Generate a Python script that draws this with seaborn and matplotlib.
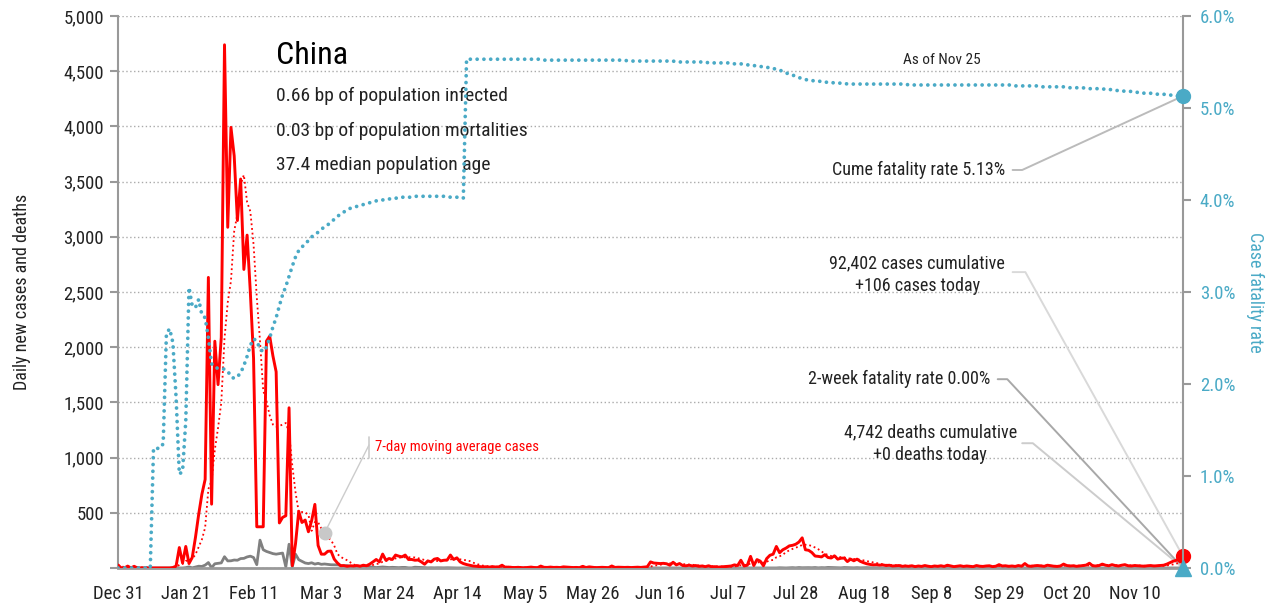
import pandas as pd
import numpy as np
import matplotlib
matplotlib.use('Agg')
import matplotlib.pyplot as plt
import matplotlib.dates as mdates
from matplotlib import font_manager as fm
import seaborn as sns

# daily new cases, one list per month (Dec 31 2019 .. Nov 25 2020)
cases_dec = [27]
cases_jan = [0, 0, 17, 0, 15, 0, 0, 0, 0, 0,
             0, 0, 0, 0, 0, 0, 4, 17, 185, 45,
             195, 40, 95, 277, 486, 669, 802, 2632, 578, 2054, 1661]
cases_feb = [2089, 4739, 3086, 3991, 3733, 3147, 3523, 2704, 3015, 2500,
             1900, 373, 373, 373, 2055, 2100, 1921, 1777, 408, 458,
             473, 1451, 21, 219, 513, 412, 434, 328, 428]
cases_mar = [576, 204, 125, 125, 151, 153, 80, 45, 20, 22,
             15, 20, 18, 22, 16, 25, 20, 35, 55, 77,
             55, 126, 70, 86, 77, 117, 107, 101, 117, 77, 77]
cases_apr = [70, 72, 55, 34, 64, 55, 80, 86, 64, 70,
             72, 117, 77, 92, 55, 40, 31, 25, 18, 15,
             12, 10, 11, 8, 12, 9, 10, 25, 6, 8]
cases_may = [5, 4, 6, 3, 2, 5, 8, 4, 3, 17,
             6, 5, 8, 5, 6, 4, 10, 8, 5, 4,
             5, 3, 15, 4, 10, 6, 3, 4, 6, 4, 3]
cases_jun = [18, 5, 7, 6, 5, 6, 4, 5, 7, 5,
             8, 11, 55, 45, 42, 40, 42, 38, 25, 52,
             28, 40, 22, 20, 25, 18, 22, 15, 18, 12]
cases_jul = [20, 10, 12, 8, 10, 12, 15, 18, 28, 22,
             70, 18, 25, 105, 22, 76, 62, 20, 85, 115,
             125, 195, 138, 165, 180, 200, 205, 215, 235, 273, 165]
cases_aug = [160, 140, 108, 105, 100, 120, 95, 90, 110, 80,
             88, 90, 58, 80, 65, 80, 60, 48, 38, 32,
             28, 30, 26, 28, 22, 25, 18, 20, 22, 15, 18]
cases_sep = [15, 20, 12, 18, 14, 22, 16, 12, 18, 15,
             20, 14, 25, 18, 12, 16, 20, 14, 18, 15,
             12, 22, 16, 14, 18, 20, 12, 16, 30, 18]
cases_oct = [20, 15, 18, 14, 22, 16, 40, 18, 15, 20,
             22, 18, 15, 25, 20, 16, 14, 18, 35, 22,
             18, 20, 15, 18, 22, 26, 43, 20, 18, 22, 35]
cases_nov = [25, 20, 30, 22, 18, 25, 30, 20, 18, 22,
             20, 18, 16, 20, 22, 18, 20, 22, 25, 35,
             49, 62, 70, 85, 106]

# daily new deaths
deaths_dec = [0]
deaths_jan = [0, 0, 0, 0, 0, 0, 0, 0, 0, 0,
              1, 0, 0, 0, 0, 0, 1, 0, 1, 0,
              3, 10, 1, 8, 16, 14, 26, 49, 2, 38, 42]
deaths_feb = [46, 102, 64, 65, 72, 70, 85, 87, 100, 107,
              95, 30, 252, 165, 150, 140, 130, 125, 130, 135,
              10, 215, 10, 125, 75, 60, 45, 40, 47]
deaths_mar = [35, 42, 33, 36, 32, 29, 28, 28, 23, 16,
              22, 11, 8, 13, 10, 14, 13, 11, 8, 4,
              6, 9, 7, 4, 6, 5, 3, 5, 5, 1, 1]
deaths_apr = [7, 6, 4, 3, 1, 2, 1, 2, 1, 1,
              2, 1, 1, 0, 0, 1, 0, 0, 0, 0,
              0, 0, 0, 0, 0, 0, 0, 0, 0, 0]
deaths_may = [0, 0, 0, 0, 0, 0, 0, 0, 0, 0,
              0, 0, 0, 0, 0, 0, 1, 0, 0, 0,
              0, 0, 0, 0, 0, 0, 0, 0, 0, 0, 0]
deaths_jun = [0, 0, 0, 0, 0, 0, 0, 0, 0, 0,
              0, 0, 0, 0, 0, 0, 0, 0, 0, 0,
              0, 0, 0, 0, 0, 0, 0, 0, 0, 0]
deaths_jul = [0, 0, 0, 0, 0, 0, 0, 0, 0, 0,
              0, 0, 0, 0, 0, 0, 0, 0, 0, 0,
              1, 0, 2, 1, 0, 2, 3, 1, 4, 2, 3]
deaths_aug = [3, 2, 4, 1, 3, 2, 5, 4, 3, 2,
              1, 4, 3, 2, 1, 3, 1, 2, 3, 2,
              1, 2, 1, 1, 0, 2, 1, 1, 0, 1, 0]
deaths_sep = [1, 0, 0, 1, 0, 0, 0, 1, 0, 0,
              0, 0, 1, 0, 0, 0, 0, 0, 0, 0,
              0, 0, 0, 0, 1, 0, 0, 0, 0, 0]
deaths_oct = [0, 0, 0, 0, 0, 0, 1, 0, 0, 0,
              0, 0, 0, 0, 0, 0, 0, 0, 0, 0,
              0, 0, 0, 0, 0, 0, 0, 0, 0, 0, 0]
deaths_nov = [0, 0, 0, 0, 0, 0, 0, 0, 0, 0,
              0, 0, 0, 0, 0, 0, 0, 0, 0, 0,
              0, 0, 0, 0, 0]

# cumulative case fatality rate, percent
cfr_dec = [0.00]
cfr_jan = [0.00, 0.00, 0.00, 0.00, 0.00, 0.00, 0.00, 0.00, 0.00, 0.00,
           1.30, 1.30, 1.30, 1.35, 2.55, 2.60, 2.45, 1.85, 1.02, 1.05,
           1.60, 3.05, 2.85, 2.83, 2.92, 2.75, 2.72, 2.50, 2.22, 2.18, 2.17]
cfr_feb = [2.17, 2.16, 2.14, 2.08, 2.06, 2.08, 2.12, 2.20, 2.30, 2.42,
           2.49, 2.47, 2.38, 2.35, 2.40, 2.50, 2.62, 2.72, 2.85, 2.97,
           3.06, 3.17, 3.28, 3.38, 3.45, 3.49, 3.52, 3.56, 3.60]
cfr_mar = [3.62, 3.65, 3.68, 3.71, 3.73, 3.76, 3.79, 3.82, 3.85, 3.87,
           3.89, 3.91, 3.92, 3.93, 3.94, 3.95, 3.96, 3.97, 3.98, 3.99,
           4.00, 4.00, 4.01, 4.01, 4.02, 4.02, 4.02, 4.03, 4.03, 4.03, 4.03]
cfr_apr = [4.04, 4.04, 4.04, 4.04, 4.04, 4.04, 4.04, 4.04, 4.04, 4.04,
           4.04, 4.03, 4.03, 4.03, 4.02, 4.02, 5.53, 5.53, 5.53, 5.53,
           5.53, 5.53, 5.53, 5.53, 5.53, 5.53, 5.53, 5.53, 5.53, 5.53]
cfr_may = [5.53, 5.53, 5.53, 5.53, 5.53, 5.53, 5.53, 5.53, 5.53, 5.53,
           5.52, 5.52, 5.52, 5.52, 5.52, 5.52, 5.52, 5.52, 5.52, 5.52,
           5.52, 5.52, 5.52, 5.52, 5.52, 5.52, 5.52, 5.52, 5.52, 5.52, 5.52]
cfr_jun = [5.52, 5.52, 5.52, 5.52, 5.52, 5.51, 5.51, 5.51, 5.51, 5.51,
           5.51, 5.51, 5.51, 5.51, 5.51, 5.51, 5.51, 5.51, 5.51, 5.51,
           5.50, 5.50, 5.50, 5.50, 5.50, 5.50, 5.50, 5.50, 5.50, 5.50]
cfr_jul = [5.49, 5.49, 5.49, 5.49, 5.49, 5.49, 5.49, 5.49, 5.48, 5.48,
           5.48, 5.47, 5.47, 5.46, 5.46, 5.46, 5.45, 5.45, 5.44, 5.44,
           5.43, 5.42, 5.41, 5.40, 5.38, 5.37, 5.36, 5.34, 5.33, 5.32, 5.31]
cfr_aug = [5.30, 5.30, 5.29, 5.29, 5.29, 5.28, 5.28, 5.28, 5.27, 5.27,
           5.27, 5.27, 5.26, 5.26, 5.26, 5.26, 5.26, 5.26, 5.26, 5.26,
           5.26, 5.26, 5.26, 5.26, 5.26, 5.26, 5.26, 5.26, 5.26, 5.26, 5.26]
cfr_sep = [5.25, 5.25, 5.25, 5.25, 5.25, 5.25, 5.25, 5.25, 5.25, 5.25,
           5.25, 5.25, 5.25, 5.25, 5.25, 5.25, 5.25, 5.25, 5.25, 5.25,
           5.25, 5.25, 5.25, 5.25, 5.25, 5.25, 5.25, 5.25, 5.25, 5.25]
cfr_oct = [5.25, 5.25, 5.25, 5.24, 5.24, 5.24, 5.24, 5.24, 5.24, 5.24,
           5.24, 5.23, 5.23, 5.23, 5.23, 5.23, 5.23, 5.23, 5.23, 5.22,
           5.22, 5.22, 5.22, 5.22, 5.22, 5.21, 5.21, 5.21, 5.21, 5.21, 5.21]
cfr_nov = [5.20, 5.20, 5.20, 5.19, 5.19, 5.19, 5.18, 5.18, 5.18, 5.17,
           5.17, 5.17, 5.16, 5.16, 5.16, 5.16, 5.15, 5.15, 5.15, 5.14,
           5.14, 5.14, 5.13, 5.13, 5.13]

stats = ['0.66 bp of population infected',
         '0.03 bp of population mortalities',
         '37.4 median population age']

cases = (cases_dec + cases_jan + cases_feb + cases_mar + cases_apr + cases_may
         + cases_jun + cases_jul + cases_aug + cases_sep + cases_oct + cases_nov)
deaths = (deaths_dec + deaths_jan + deaths_feb + deaths_mar + deaths_apr + deaths_may
          + deaths_jun + deaths_jul + deaths_aug + deaths_sep + deaths_oct + deaths_nov)
cfr = (cfr_dec + cfr_jan + cfr_feb + cfr_mar + cfr_apr + cfr_may
       + cfr_jun + cfr_jul + cfr_aug + cfr_sep + cfr_oct + cfr_nov)

dates = pd.date_range('2019-12-31', periods=len(cases), freq='D')
df = pd.DataFrame({'date': dates, 'cases': cases, 'deaths': deaths,
                   'cfr': np.array(cfr) / 100})
df['cases_ma'] = df['cases'].rolling(7, min_periods=1).mean()
two_week = df['deaths'].tail(14).sum() / df['cases'].tail(14).sum()

TEAL = '#4aaac6'
GREY = '#999999'

sns.set_style('white')
installed = {f.name for f in fm.fontManager.ttflist}
family = next((f for f in ['Roboto Condensed', 'Liberation Sans Narrow', 'DejaVu Sans']
               if f in installed), 'DejaVu Sans')
plt.rcParams['font.family'] = [family, 'DejaVu Sans']
plt.rcParams['font.stretch'] = 'condensed'
plt.rcParams['text.color'] = '#222222'

fig, ax = plt.subplots(figsize=(12.73, 6.10), dpi=100)
fig.subplots_adjust(left=0.0927, right=0.9293, bottom=0.0689, top=0.9738)

sns.lineplot(data=df, x='date', y='deaths', ax=ax, color='#808080', lw=2, zorder=2)
sns.lineplot(data=df, x='date', y='cases_ma', ax=ax, color='red', lw=1.3,
             linestyle=(0, (1, 1.6)), zorder=3)
sns.lineplot(data=df, x='date', y='cases', ax=ax, color='red', lw=2.1, zorder=4)

ax.set_xlim(dates[0], dates[-1])
ax.set_ylim(0, 5000)
yt = np.arange(0, 5001, 500)
ax.set_yticks(yt)
ax.set_yticklabels([''] + [f'{v:,}' for v in yt[1:]])
tick_dates = pd.date_range(dates[0], dates[-1], freq='21D')
ax.set_xticks(tick_dates)
ax.set_xticklabels([f'{d:%b} {d.day}' for d in tick_dates])
ax.grid(axis='y', linestyle=(0, (1, 1.8)), color='#aaaaaa', lw=1)
ax.grid(axis='x', visible=False)
ax.set_axisbelow(True)
ax.tick_params(axis='x', length=6, width=1.5, color=GREY, labelsize=13.5, pad=6, labelcolor='#222222')
ax.tick_params(axis='y', length=6, width=1.5, color=GREY, labelsize=13.5, pad=4, labelcolor='#222222')
ax.set_xlabel('')
ax.set_ylabel('Daily new cases and deaths', fontsize=13, color='#222222')
ax.yaxis.set_label_coords(-0.082, 0.5)
for s in ['top', 'right']:
    ax.spines[s].set_visible(False)
ax.spines['left'].set_color(GREY)
ax.spines['left'].set_linewidth(1.5)
ax.spines['bottom'].set_color(GREY)
ax.spines['bottom'].set_linewidth(2)

ax2 = ax.twinx()
sns.lineplot(data=df, x='date', y='cfr', ax=ax2, color=TEAL, lw=2.7,
             linestyle=(0, (0.01, 1.8)), dash_capstyle='round', zorder=5)
ax2.set_xlim(dates[0], dates[-1])
ax2.set_ylim(0, 0.06)
ax2.set_yticks(np.arange(0, 0.0601, 0.01))
ax2.set_yticklabels([f'{v * 100:.1f}%' for v in np.arange(0, 0.0601, 0.01)])
ax2.tick_params(axis='y', length=6, width=1.5, color=GREY, labelsize=13.5, pad=6, labelcolor=TEAL)
ax2.set_ylabel('Case fatality rate', fontsize=13, color=TEAL, rotation=270, va='center')
ax2.yaxis.set_label_coords(1.068, 0.5)
ax2.grid(False)
for s in ['top', 'left', 'bottom']:
    ax2.spines[s].set_visible(False)
ax2.spines['right'].set_color(GREY)
ax2.spines['right'].set_linewidth(1.5)

# end markers
last = dates[-1]
ax.plot([last], [df['cases'].iloc[-1]], 'o', color='red', ms=10, clip_on=False, zorder=6)
ax2.plot([last], [two_week], '^', color=TEAL, ms=12, clip_on=False, zorder=7)
ax2.plot([last], [df['cfr'].iloc[-1]], 'o', color=TEAL, ms=10, clip_on=False, zorder=7)


def frac(axis, x, y):
    p = axis.transData.transform((mdates.date2num(x), y))
    return ax.transAxes.inverted().transform(p)


def leader(x0, x1, y, end, color):
    ax.plot([x0, x1, end[0]], [y, y, end[1]], color=color, lw=1.4,
            transform=ax.transAxes, clip_on=False, zorder=1)


# header block
ax.text(0.148, 0.929, 'China', transform=ax.transAxes, fontsize=23, va='center', color='black')
for i, s in enumerate(stats):
    ax.text(0.148, 0.855 - i * 0.0625, s, transform=ax.transAxes, fontsize=14, va='center')
ax.text(0.774, 0.920, 'As of Nov 25', transform=ax.transAxes, fontsize=11, ha='center', va='center')

# right-hand call-outs
ax.text(0.833, 0.721, f'Cume fatality rate {cfr[-1]:.2f}%', transform=ax.transAxes,
        fontsize=13, ha='right', va='center')
leader(0.840, 0.849, 0.721, frac(ax2, last, df['cfr'].iloc[-1]), '#bbbbbb')

ax.text(0.833, 0.531, '92,402 cases cumulative\n+106 cases today', transform=ax.transAxes,
        fontsize=13, ha='right', va='center', multialignment='center', linespacing=1.35)
leader(0.840, 0.852, 0.536, frac(ax, last, df['cases'].iloc[-1]), '#d9d9d9')

ax.text(0.819, 0.342, f'2-week fatality rate {two_week * 100:.2f}%', transform=ax.transAxes,
        fontsize=13, ha='right', va='center')
leader(0.826, 0.835, 0.342, frac(ax2, last, two_week), '#a8a8a8')

ax.text(0.844, 0.225, '4,742 deaths cumulative\n+0 deaths today', transform=ax.transAxes,
        fontsize=13, ha='right', va='center', multialignment='center', linespacing=1.35)
leader(0.849, 0.859, 0.226, frac(ax, last, df['deaths'].iloc[-1]), '#cccccc')

# moving-average call-out
ma_day = pd.Timestamp('2020-03-04')
ma_val = df.loc[df['date'] == ma_day, 'cases_ma'].iloc[0]
ax.plot([ma_day], [ma_val], 'o', color='#c8c8c8', ms=9, zorder=6)
p = frac(ax, ma_day, ma_val)
ax.plot([0.2357, p[0]], [0.2228, p[1]], color='#cccccc', lw=1, transform=ax.transAxes, zorder=1)
ax.plot([0.2357, 0.2357], [0.1993, 0.2373], color='#cccccc', lw=1.2, transform=ax.transAxes)
ax.text(0.2413, 0.2192, '7-day moving average cases', transform=ax.transAxes,
        fontsize=10.5, color='red', va='center')

plt.savefig('out.png', dpi=100)
